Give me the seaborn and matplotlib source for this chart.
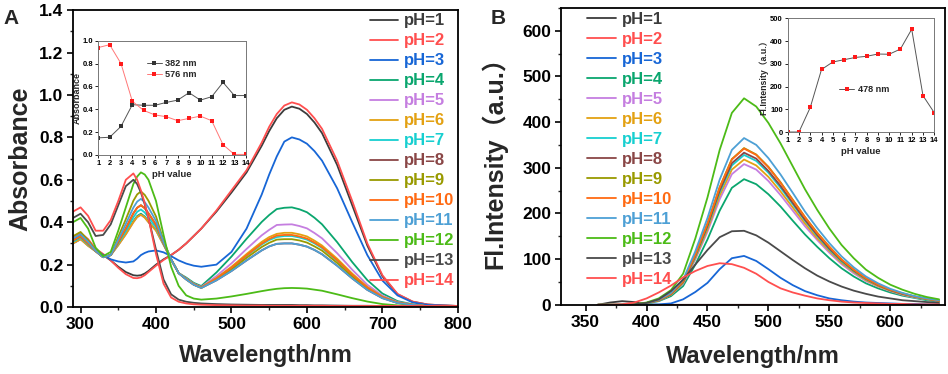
import numpy as np
import pandas as pd
import matplotlib
matplotlib.use("Agg")
import matplotlib.pyplot as plt
from matplotlib.ticker import MultipleLocator
import seaborn as sns

sns.set_theme(style="ticks")
plt.rcParams["font.family"] = ["Liberation Sans", "Noto Sans CJK SC"]
plt.rcParams["font.weight"] = "bold"
plt.rcParams["axes.labelweight"] = "bold"

# ---------------- data: absorption spectra (panel A) ----------------
wl_abs = [290, 300, 310, 320, 330, 340, 350, 360, 370, 375, 380, 385, 390, 400, 410, 420, 430, 440, 450, 460,
          480, 500, 520, 540, 550, 560, 570, 580, 590, 600, 610, 620, 640, 660, 680, 700, 720, 740, 760, 780, 800]

abs_ph1 = [.32, .34, .31, .27, .245, .22, .19, .165, .15, .148, .15, .158, .17, .20, .225, .245, .27, .30, .335, .37,
           .45, .54, .635, .76, .83, .89, .93, .945, .935, .91, .87, .82, .67, .48, .29, .145, .06, .025, .012, .008, .005]
abs_ph2 = [.33, .35, .32, .275, .25, .22, .185, .155, .137, .136, .14, .15, .165, .195, .222, .245, .27, .30, .335, .37,
           .455, .55, .645, .775, .85, .91, .95, .965, .955, .93, .89, .84, .69, .50, .30, .15, .062, .026, .012, .008, .005]
abs_ph3 = [.30, .32, .30, .27, .245, .225, .215, .21, .215, .228, .245, .255, .262, .267, .258, .24, .22, .205, .195, .19,
           .20, .26, .37, .53, .625, .71, .78, .80, .79, .77, .735, .69, .56, .40, .245, .125, .055, .022, .01, .007, .005]
abs_ph4 = [.302, .322, .29, .263, .235, .245, .294, .346, .405, .429, .44, .427, .405, .364, .295, .225, .16, .139, .114, .099,
           .163, .238, .322, .401, .434, .462, .468, .47, .461, .447, .421, .39, .306, .212, .127, .064, .028, .013, .004, .004, .003]
abs_ph5 = [.30, .32, .289, .263, .235, .245, .292, .343, .40, .424, .435, .422, .40, .361, .294, .225, .16, .135, .11, .095,
           .146, .206, .274, .338, .364, .387, .389, .39, .382, .371, .349, .324, .254, .176, .105, .054, .024, .012, .004, .004, .003]
abs_ph6 = [.30, .32, .289, .263, .235, .245, .292, .343, .40, .424, .435, .422, .40, .361, .294, .225, .16, .133, .108, .093,
           .137, .19, .25, .307, .33, .345, .35, .35, .343, .333, .313, .29, .228, .158, .095, .049, .022, .011, .004, .004, .003]
abs_ph7 = [.308, .328, .295, .264, .235, .245, .301, .359, .423, .449, .46, .446, .423, .376, .298, .225, .16, .132, .107, .092,
           .134, .184, .241, .295, .316, .33, .335, .335, .328, .318, .30, .278, .218, .151, .09, .047, .021, .011, .004, .004, .003]
abs_ph8 = [.314, .334, .30, .264, .235, .245, .308, .372, .442, .468, .48, .466, .442, .388, .302, .225, .16, .13, .105, .09,
           .126, .17, .22, .267, .286, .298, .30, .30, .294, .285, .269, .249, .195, .135, .081, .042, .019, .01, .004, .004, .003]
abs_ph9 = [.334, .354, .316, .266, .235, .245, .331, .414, .501, .531, .545, .529, .501, .427, .313, .225, .16, .131, .106, .091,
           .13, .178, .232, .283, .303, .318, .32, .32, .314, .304, .286, .266, .208, .144, .086, .045, .02, .01, .004, .004, .003]
abs_ph10 = [.314, .334, .30, .264, .235, .245, .308, .372, .442, .468, .48, .466, .442, .388, .302, .225, .16, .132, .107, .092,
            .135, .186, .244, .299, .321, .337, .34, .34, .333, .323, .304, .282, .221, .153, .092, .047, .021, .011, .004, .004, .003]
abs_ph11 = [.323, .343, .308, .265, .235, .245, .319, .392, .469, .497, .51, .495, .469, .406, .307, .225, .16, .13, .105, .09,
            .126, .17, .22, .267, .286, .298, .30, .30, .294, .285, .269, .249, .195, .135, .081, .042, .019, .01, .004, .004, .003]
abs_ph12 = [.40, .42, .37, .28, .24, .26, .36, .47, .58, .615, .635, .625, .60, .50, .34, .19, .10, .055, .04, .035,
            .04, .05, .062, .075, .081, .086, .089, .09, .089, .087, .082, .077, .06, .042, .026, .014, .008, .005, .004, .003, .003]
abs_ph13 = [.42, .44, .40, .335, .34, .39, .48, .57, .60, .58, .54, .485, .42, .27, .13, .06, .035, .025, .02, .017,
            .014, .012, .011, .01, .01, .01, .01, .01, .009, .009, .008, .008, .007, .006, .006, .005, .005, .005, .005, .005, .005]
abs_ph14 = [.45, .47, .43, .36, .36, .41, .50, .60, .63, .60, .55, .49, .42, .25, .11, .045, .025, .017, .013, .011,
            .009, .008, .007, .007, .006, .006, .006, .006, .006, .006, .006, .006, .005, .005, .005, .005, .005, .005, .005, .005, .005]

# ---------------- data: emission spectra (panel B) ----------------
wl_fl = [360, 370, 380, 390, 400, 410, 420, 430, 440, 450, 460, 470, 480, 490, 500, 510, 520, 530, 540, 550,
         560, 570, 580, 590, 600, 610, 620, 630, 640]

fl_ph1 = [0, 5, 8, 6, 1, 0, 0, 0, 0, 0, 0, 0, 0, 0, 0, 0, 0, 0, 0, 0, 0, 0, 0, 0, 0, 0, 0, 0, 0]
fl_ph2 = [0, 0, 0, 0, 0, 0, 0, 0, 0, 0, 0, 0, 0, 0, 0, 0, 0, 0, 0, 0, 0, 0, 0, 0, 0, 0, 0, 0, 0]
fl_ph3 = [0, 0, 0, 0, 0, 1, 3, 12, 28, 48, 78, 102, 107, 96, 78, 59, 43, 30, 21, 14, 10, 7, 5, 4, 3, 2, 2, 1, 1]
fl_ph4 = [0, 0, 0, 1, 3, 8, 19, 41, 88, 143, 206, 256, 275, 264, 242, 215, 184, 154, 127, 102, 80, 62, 47, 36, 27, 20, 15, 10, 7]
fl_ph5 = [0, 0, 0, 1, 4, 9, 22, 46, 99, 160, 231, 286, 308, 296, 271, 240, 206, 172, 142, 114, 89, 69, 52, 40, 30, 22, 16, 12, 8]
fl_ph6 = [0, 0, 0, 1, 4, 10, 22, 48, 102, 165, 239, 296, 318, 305, 280, 248, 213, 178, 146, 118, 92, 72, 54, 41, 31, 23, 17, 12, 9]
fl_ph7 = [0, 0, 0, 1, 4, 10, 23, 49, 105, 171, 246, 305, 328, 315, 289, 256, 220, 184, 151, 121, 95, 74, 56, 43, 32, 24, 17, 12, 9]
fl_ph8 = [0, 0, 0, 1, 4, 10, 23, 50, 107, 173, 250, 310, 333, 320, 293, 260, 223, 186, 153, 123, 97, 75, 57, 43, 32, 24, 18, 13, 9]
fl_ph9 = [0, 0, 0, 1, 4, 10, 24, 51, 110, 178, 257, 319, 343, 329, 302, 268, 230, 192, 158, 127, 99, 77, 58, 45, 33, 25, 18, 13, 9]
fl_ph10 = [0, 0, 0, 1, 4, 10, 24, 51, 109, 178, 257, 318, 342, 328, 301, 267, 229, 192, 157, 127, 99, 77, 58, 44, 33, 25, 18, 13, 9]
fl_ph11 = [0, 0, 0, 1, 4, 11, 26, 55, 117, 190, 274, 339, 365, 350, 321, 285, 245, 204, 168, 135, 106, 82, 62, 47, 35, 26, 19, 14, 10]
fl_ph12 = [0, 0, 0, 1, 5, 14, 32, 68, 145, 235, 339, 420, 452, 434, 398, 353, 303, 253, 208, 167, 131, 102, 77, 59, 44, 33, 24, 17, 12]
fl_ph13 = [0, 0, 0, 1, 4, 12, 30, 55, 88, 120, 148, 161, 162, 152, 136, 117, 98, 80, 64, 51, 40, 31, 24, 18, 14, 10, 8, 6, 4]
fl_ph14 = [0, 0, 1, 5, 14, 27, 42, 60, 74, 85, 91, 89, 81, 68, 50, 36, 27, 20, 14, 10, 7, 5, 4, 3, 2, 2, 1, 1, 1]

# ---------------- data: insets ----------------
ph_values = [1, 2, 3, 4, 5, 6, 7, 8, 9, 10, 11, 12, 13, 14]
abs_382 = [0.15, 0.155, 0.25, 0.44, 0.435, 0.435, 0.46, 0.48, 0.545, 0.48, 0.51, 0.635, 0.52, 0.52]
abs_576 = [0.94, 0.965, 0.80, 0.47, 0.39, 0.35, 0.335, 0.30, 0.32, 0.34, 0.30, 0.09, 0.005, 0.005]
fl_478 = [0, 0, 108, 275, 308, 318, 328, 333, 343, 342, 365, 452, 160, 85]

labels = ["pH=%d" % p for p in ph_values]
colors = ["#3c3c3c", "#ff4f4f", "#1766d6", "#0aa66e", "#c57ee0", "#e3a112", "#17cfd0",
          "#8a4646", "#999a00", "#ff6a13", "#4da0d5", "#4cbb17", "#4a4a4a", "#ff4f4f"]

abs_series = [abs_ph1, abs_ph2, abs_ph3, abs_ph4, abs_ph5, abs_ph6, abs_ph7,
              abs_ph8, abs_ph9, abs_ph10, abs_ph11, abs_ph12, abs_ph13, abs_ph14]
fl_series = [fl_ph1, fl_ph2, fl_ph3, fl_ph4, fl_ph5, fl_ph6, fl_ph7,
             fl_ph8, fl_ph9, fl_ph10, fl_ph11, fl_ph12, fl_ph13, fl_ph14]

df_abs = pd.concat([pd.DataFrame({"wavelength": wl_abs, "value": s, "pH": lab})
                    for s, lab in zip(abs_series, labels)], ignore_index=True)
df_fl = pd.concat([pd.DataFrame({"wavelength": wl_fl, "value": s, "pH": lab})
                   for s, lab in zip(fl_series, labels)], ignore_index=True)

fig = plt.figure(figsize=(9.48, 3.74), dpi=100)
axA = fig.add_axes([0.077, 0.179, 0.406, 0.794])
axB = fig.add_axes([0.592, 0.185, 0.405, 0.794])

palette = dict(zip(labels, colors))


def style_main(ax):
    for sp in ax.spines.values():
        sp.set_linewidth(1.3)
        sp.set_color("black")
    ax.tick_params(which="major", direction="out", length=4, width=1.2, labelsize=12.5, pad=3, colors="black")
    ax.tick_params(which="minor", direction="out", length=2.5, width=1.0)
    for t in ax.get_xticklabels() + ax.get_yticklabels():
        t.set_fontweight("bold")


# ---------------- panel A ----------------
sns.lineplot(data=df_abs, x="wavelength", y="value", hue="pH", hue_order=labels,
             palette=palette, linewidth=1.3, ax=axA, sort=False)
axA.set_xlim(290, 800)
axA.set_ylim(0, 1.4)
axA.xaxis.set_major_locator(MultipleLocator(100))
axA.xaxis.set_minor_locator(MultipleLocator(50))
axA.yaxis.set_major_locator(MultipleLocator(0.2))
axA.yaxis.set_minor_locator(MultipleLocator(0.1))
axA.yaxis.set_major_formatter(matplotlib.ticker.FormatStrFormatter("%.1f"))
style_main(axA)
axA.set_xlabel("Wavelength/nm", fontsize=17, fontweight="bold")
axA.set_ylabel("Absorbance", fontsize=18, fontweight="bold")
axA.xaxis.set_label_coords(0.5, -0.125)
axA.yaxis.set_label_coords(-0.105, 0.5)
h, l = axA.get_legend_handles_labels()
axA.legend(h, l, loc="upper right", bbox_to_anchor=(0.992, 0.989), frameon=False,
           labelcolor="linecolor", handlelength=1.7, handletextpad=0.36,
           labelspacing=0.30, borderpad=0, borderaxespad=0,
           prop={"weight": "bold", "size": 12})

# ---------------- panel B ----------------
sns.lineplot(data=df_fl, x="wavelength", y="value", hue="pH", hue_order=labels,
             palette=palette, linewidth=1.3, ax=axB, sort=False)
axB.set_xlim(330, 645)
axB.set_ylim(0, 650)
axB.xaxis.set_major_locator(MultipleLocator(50))
axB.xaxis.set_minor_locator(MultipleLocator(25))
axB.yaxis.set_major_locator(MultipleLocator(100))
axB.yaxis.set_minor_locator(MultipleLocator(50))
style_main(axB)
axB.set_xlabel("Wavelength/nm", fontsize=17, fontweight="bold")
axB.set_ylabel("Fl.Intensity（a.u.）", fontsize=18, fontweight="bold")
axB.xaxis.set_label_coords(0.5, -0.135)
axB.yaxis.set_label_coords(-0.14, 0.5)
h, l = axB.get_legend_handles_labels()
axB.legend(h, l, loc="upper left", bbox_to_anchor=(0.068, 0.985), frameon=False,
           labelcolor="linecolor", handlelength=1.7, handletextpad=0.36,
           labelspacing=0.30, borderpad=0, borderaxespad=0,
           prop={"weight": "bold", "size": 12})


def style_inset(ax):
    for sp in ax.spines.values():
        sp.set_linewidth(0.7)
        sp.set_color("#777777")
    ax.tick_params(which="major", direction="out", length=2, width=0.6, labelsize=5.5, pad=1.5, colors="black")
    ax.xaxis.set_major_locator(MultipleLocator(1))
    ax.set_xlim(1, 14)
    for t in ax.get_xticklabels() + ax.get_yticklabels():
        t.set_fontweight("bold")
    ax.set_facecolor("white")


# ---------------- inset A ----------------
insA = fig.add_axes([0.1037, 0.5856, 0.1555, 0.3056])
sns.lineplot(x=ph_values, y=abs_382, color="#555555", linewidth=0.7, marker="s", markersize=2.5,
             markeredgewidth=0, markerfacecolor="#333333", ax=insA, label="382 nm")
sns.lineplot(x=ph_values, y=abs_576, color="#ff7777", linewidth=0.7, marker="s", markersize=2.5,
             markeredgewidth=0, markerfacecolor="#ff1a1a", ax=insA, label="576 nm")
insA.set_ylim(0, 1.0)
insA.yaxis.set_major_locator(MultipleLocator(0.2))
insA.yaxis.set_major_formatter(matplotlib.ticker.FormatStrFormatter("%.1f"))
style_inset(insA)
insA.set_xlabel("pH value", fontsize=6.8, fontweight="bold", labelpad=2)
insA.set_ylabel("Absorbance", fontsize=6.5, fontweight="bold", labelpad=1)
insA.legend(loc="upper left", bbox_to_anchor=(0.3, 0.88), frameon=False,
            handlelength=1.6, handletextpad=0.4, labelspacing=0.25, borderpad=0,
            prop={"weight": "bold", "size": 6.6})

# ---------------- inset B ----------------
insB = fig.add_axes([0.8309, 0.647, 0.1546, 0.304])
sns.lineplot(x=ph_values, y=fl_478, color="#555555", linewidth=0.7, marker="s", markersize=2.5,
             markeredgewidth=0, markerfacecolor="#ff1a1a", ax=insB, label="478 nm")
insB.set_ylim(0, 500)
insB.yaxis.set_major_locator(MultipleLocator(100))
style_inset(insB)
insB.set_xlabel("pH value", fontsize=6.8, fontweight="bold", labelpad=2)
insB.set_ylabel("Fl.Intensity（a.u.）", fontsize=6.3, fontweight="bold", labelpad=1)
insB.legend(loc="center left", bbox_to_anchor=(0.32, 0.37), frameon=False,
            handlelength=1.6, handletextpad=0.4, borderpad=0,
            prop={"weight": "bold", "size": 6.6})

fig.text(0.004, 0.975, "A", fontsize=15, fontweight="bold", va="top", ha="left")
fig.text(0.518, 0.975, "B", fontsize=15, fontweight="bold", va="top", ha="left")

fig.savefig("out.png", dpi=100)
